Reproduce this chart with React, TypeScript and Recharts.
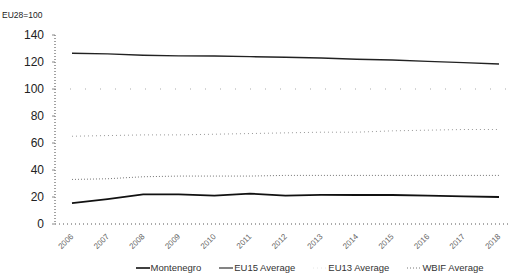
import { LineChart, Line, XAxis, YAxis, ReferenceLine, Legend } from 'recharts';

// years on the x axis
const years = [2006, 2007, 2008, 2009, 2010, 2011, 2012, 2013, 2014, 2015, 2016, 2017, 2018];

// index values, EU28 = 100
const montenegro = [15.5, 18.5, 22, 22, 21, 22.5, 21, 21.5, 21.5, 21.5, 21, 20.5, 20];
const eu15Average = [126.5, 126, 125, 124.5, 124.5, 124, 123.5, 123, 122, 121.5, 120.5, 119.5, 118.5];
const eu13Average = [65, 65.5, 66, 66, 66.5, 67, 67.5, 68, 68, 69, 69.5, 70, 70];
const wbifAverage = [33, 33.5, 35, 35.5, 35.5, 35.5, 36, 36, 36, 36, 36, 36, 36];

const yTicks = [0, 20, 40, 60, 80, 100, 120, 140];

const chartData = years.map((year, i) => ({
    year,
    montenegro: montenegro[i],
    eu15: eu15Average[i],
    eu13: eu13Average[i],
    wbif: wbifAverage[i],
}));

const FONT = '"Liberation Sans", Arial, sans-serif';

// x labels are tilted like in the original export
const YearTick = ({ x, y, payload }: any) => (
    <text
        x={x + 2}
        y={y + 5}
        transform={`rotate(-45, ${x + 2}, ${y + 5})`}
        textAnchor="end"
        fontSize={8}
        fill="#666"
        fontFamily={FONT}
    >
        {payload.value}
    </text>
);

const legendItems = [
    { name: 'Montenegro', stroke: '#111', dash: undefined, width: 1.6 },
    { name: 'EU15 Average', stroke: '#333', dash: undefined, width: 1.2 },
    { name: 'EU13 Average', stroke: '#e6e6e6', dash: '1 3', width: 1 },
    { name: 'WBIF Average', stroke: '#777', dash: '1 2', width: 1 },
];

const CustomLegend = () => (
    <div style={{ display: 'flex', justifyContent: 'center', gap: 18, fontFamily: FONT, fontSize: 9.5, color: '#333', marginLeft: 110, marginTop: 6 }}>
        {legendItems.map((item) => (
            <span key={item.name} style={{ display: 'flex', alignItems: 'center' }}>
                <svg width={14} height={6} style={{ marginRight: 1 }}>
                    <line x1={0} y1={3} x2={14} y2={3} stroke={item.stroke} strokeWidth={item.width} strokeDasharray={item.dash} />
                </svg>
                {item.name}
            </span>
        ))}
    </div>
);

export default function App() {
    return (
        <div style={{ position: 'absolute', left: 0, top: 0, width: 521, height: 276, background: '#fff' }}>
            <div style={{ position: 'absolute', left: 2, top: 10, fontFamily: FONT, fontSize: 8.5, color: '#222' }}>EU28=100</div>
            <LineChart width={521} height={276} data={chartData} margin={{ top: 35, right: 12, left: 0, bottom: 0 }}>
                <XAxis
                    dataKey="year"
                    tick={<YearTick />}
                    interval={0}
                    height={32}
                    padding={{ left: 17, right: 10 }}
                    axisLine={{ stroke: '#555', strokeDasharray: '1 3' }}
                    tickLine={false}
                />
                <YAxis
                    domain={[0, 140]}
                    ticks={yTicks}
                    width={55}
                    tick={{ fill: '#222', fontSize: 12, fontFamily: FONT }}
                    axisLine={{ stroke: '#444', strokeDasharray: '1 2' }}
                    tickLine={{ stroke: '#888' }}
                    tickSize={3}
                    tickMargin={8}
                />
                <ReferenceLine y={100} stroke="#aaa" strokeDasharray="1 14" />
                <Line type="linear" dataKey="eu13" name="EU13 Average" stroke="#999" strokeWidth={1} strokeDasharray="1 3" dot={false} isAnimationActive={false} />
                <Line type="linear" dataKey="wbif" name="WBIF Average" stroke="#777" strokeWidth={1} strokeDasharray="1 2" dot={false} isAnimationActive={false} />
                <Line type="linear" dataKey="eu15" name="EU15 Average" stroke="#222" strokeWidth={1.4} dot={false} isAnimationActive={false} />
                <Line type="linear" dataKey="montenegro" name="Montenegro" stroke="#111" strokeWidth={1.8} dot={false} isAnimationActive={false} />
                <Legend content={<CustomLegend />} verticalAlign="bottom" height={20} />
            </LineChart>
        </div>
    );
}
